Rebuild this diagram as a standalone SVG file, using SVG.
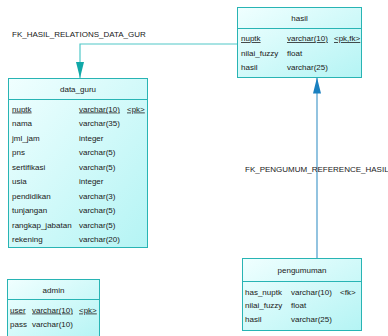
<svg xmlns="http://www.w3.org/2000/svg" width="388" height="336" viewBox="0 0 388 336">
<defs>
<linearGradient id="g" x1="0" y1="0" x2="1" y2="1">
<stop offset="0" stop-color="#f0ffff"/>
<stop offset="1" stop-color="#b4f4f4"/>
</linearGradient>
<marker id="aT" markerWidth="16" markerHeight="8" refX="16" refY="4" orient="auto" markerUnits="userSpaceOnUse" viewBox="0 0 16 8">
<path d="M0,0 L16,4 L0,8 Z" fill="#10a8a8"/>
</marker>
<marker id="aB" markerWidth="16" markerHeight="8" refX="16" refY="4" orient="auto" markerUnits="userSpaceOnUse" viewBox="0 0 16 8">
<path d="M0,0 L16,4 L0,8 Z" fill="#1a80c0"/>
</marker>
</defs>
<style>
.box{fill:url(#g);stroke:#28b4b4;stroke-width:1}
.sep{stroke:#28b4b4;stroke-width:1}
text{font-family:"Liberation Sans",Arial,sans-serif;font-size:8px;fill:#202020}
.h{text-anchor:middle}
.u{text-decoration:underline}
.lbl{font-size:8px}
</style>
<rect width="388" height="336" fill="#ffffff"/>
<g id="connectors">
<polyline points="237,44 80,44 80,78" fill="none" stroke="#50c8c8" stroke-width="1.2" marker-end="url(#aT)"/>
<line x1="317" y1="258" x2="317" y2="77.5" stroke="#4a9ccc" stroke-width="1.2" marker-end="url(#aB)"/>
<text class="lbl" x="12" y="37">FK_HASIL_RELATIONS_DATA_GUR</text>
<text class="lbl" x="245" y="172">FK_PENGUMUM_REFERENCE_HASIL</text>
</g>
<g id="hasil">
<rect class="box" x="237.5" y="7.5" width="124" height="70"/>
<line class="sep" x1="237.5" y1="28.5" x2="361.5" y2="28.5"/>
<text class="h" x="299.5" y="21">hasil</text>
<text class="u" x="241" y="41">nuptk</text><text class="u" x="287" y="41">varchar(10)</text><text class="u" x="334" y="41">&lt;pk,fk&gt;</text>
<text x="241" y="55.5">nilai_fuzzy</text><text x="287" y="55.5">float</text>
<text x="241" y="70">hasil</text><text x="287" y="70">varchar(25)</text>
</g>
<g id="data_guru">
<rect class="box" x="8.5" y="78.5" width="139" height="169"/>
<line class="sep" x1="8.5" y1="99.5" x2="147.5" y2="99.5"/>
<text class="h" x="78" y="92">data_guru</text>
<text class="u" x="12" y="111.5">nuptk</text><text class="u" x="79" y="111.5">varchar(10)</text><text class="u" x="127" y="111.5">&lt;pk&gt;</text>
<text x="12" y="126">nama</text><text x="79" y="126">varchar(35)</text>
<text x="12" y="140.5">jml_jam</text><text x="79" y="140.5">integer</text>
<text x="12" y="155">pns</text><text x="79" y="155">varchar(5)</text>
<text x="12" y="169.5">sertifikasi</text><text x="79" y="169.5">varchar(5)</text>
<text x="12" y="184">usia</text><text x="79" y="184">integer</text>
<text x="12" y="198.5">pendidikan</text><text x="79" y="198.5">varchar(3)</text>
<text x="12" y="213">tunjangan</text><text x="79" y="213">varchar(5)</text>
<text x="12" y="227.5">rangkap_jabatan</text><text x="79" y="227.5">varchar(5)</text>
<text x="12" y="242">rekening</text><text x="79" y="242">varchar(20)</text>
</g>
<g id="admin">
<rect class="box" x="7.5" y="279.5" width="92" height="62"/>
<line class="sep" x1="7.5" y1="299.5" x2="99.5" y2="299.5"/>
<text class="h" x="53.5" y="293">admin</text>
<text class="u" x="10" y="312.5">user</text><text class="u" x="32" y="312.5">varchar(10)</text><text class="u" x="79" y="312.5">&lt;pk&gt;</text>
<text x="10" y="327">pass</text><text x="32" y="327">varchar(10)</text>
</g>
<g id="pengumuman">
<rect class="box" x="242.5" y="258.5" width="119" height="72"/>
<line class="sep" x1="242.5" y1="281.5" x2="361.5" y2="281.5"/>
<text class="h" x="302" y="273">pengumuman</text>
<text x="245" y="295">has_nuptk</text><text x="291" y="295">varchar(10)</text><text x="340" y="295">&lt;fk&gt;</text>
<text x="245" y="308">nilai_fuzzy</text><text x="291" y="308">float</text>
<text x="245" y="322">hasil</text><text x="291" y="322">varchar(25)</text>
</g>
</svg>
